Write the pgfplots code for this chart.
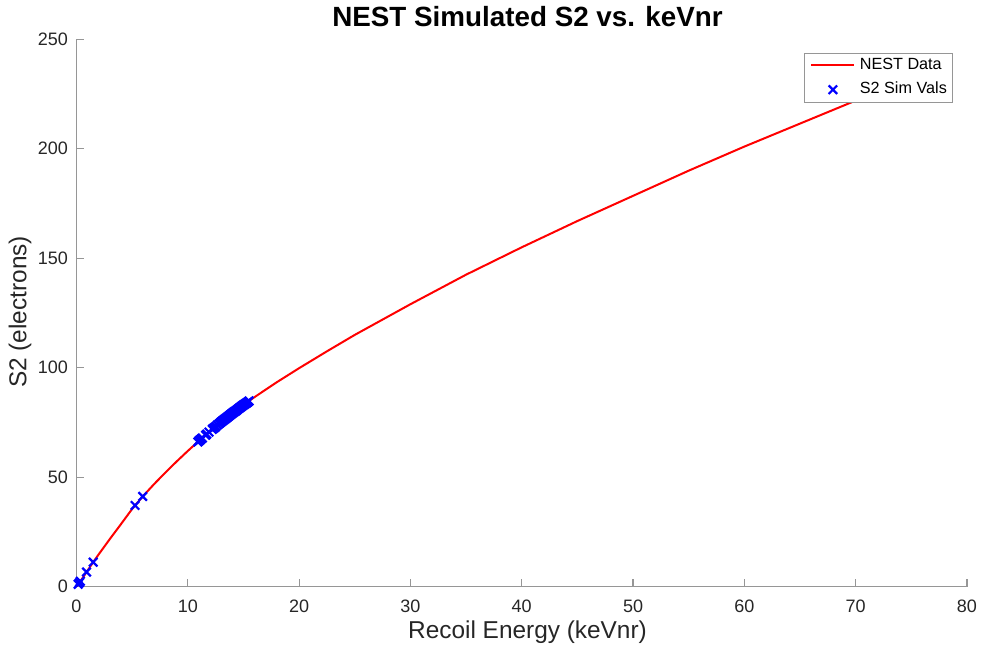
\documentclass[border=0pt]{standalone}
\usepackage{fontspec}
\setmainfont{Liberation Sans}
\usepackage{pgfplots}
\pgfplotsset{compat=1.18}
\definecolor{axgray}{RGB}{150,150,150}
\definecolor{txgray}{RGB}{38,38,38}
\begin{document}
\begin{tikzpicture}
\begin{axis}[
  scale only axis,
  width=445.25pt, height=273.7pt,
  xmin=0, xmax=80, ymin=0, ymax=250,
  xtick={0,10,...,80}, ytick={0,50,...,250},
  axis x line*=bottom, axis y line*=left,
  axis line style={draw=axgray, line width=0.6pt, -},
  tick align=inside,
  major tick length=3.8pt,
  tick style={draw=axgray, line width=0.6pt},
  /pgf/number format/assume math mode=true,
  ticklabel style={font=\fontsize{9}{10}\selectfont, text=txgray},
  xticklabel style={anchor=base, yshift=-13pt},
  yticklabel style={anchor=east, inner sep=0pt, xshift=-4.1pt},
  xlabel={Recoil Energy (keVnr)},
  ylabel={S2 (electrons)},
  label style={font=\fontsize{12.2}{14}\selectfont, text=txgray},
  xlabel style={at={(axis description cs:0.5065,-0.0943)}, anchor=base},
  ylabel style={at={(axis description cs:-0.0634,0.502)}, anchor=center},
  title={NEST Simulated S2 vs. keVnr},
  title style={at={(axis description cs:0.5065,1.0183)}, anchor=base, yshift=-4.6pt, font=\bfseries\fontsize{13.9}{16}\selectfont},
  legend style={at={(axis description cs:0.9846,0.9755)}, anchor=north east,
    draw=axgray, fill=white, font=\fontsize{8.1}{9}\selectfont,
    inner xsep=3pt, inner ysep=2.15pt, row sep=4.15pt, column sep=2.2pt,
    nodes={inner sep=0pt, text height=6pt, text depth=2pt},
    cells={anchor=west}},
  legend image code/.code={\draw[mark repeat=2,mark phase=2,#1] plot coordinates {(0pt,0pt) (10.75pt,0pt) (21.5pt,0pt)};},
]
\addplot[red, line width=1pt, no marks] coordinates {
(0,0) (0.5,3.6) (1,7.4) (1.5,11.2) (2,14.8) (3,21.8) (4,28.6) (5,35.5) (6,41.5)
(7,47) (8,52.2) (9,57.2) (10,62) (11,66.6) (12,71) (13,75.2) (14,79.2) (15,83)
(16,86.6) (18,93.4) (20,99.8) (22.5,107.5) (25,115) (27.5,122) (30,129)
(35,142.5) (40,155) (45,167) (50,178.5) (55,190) (60,201) (65,211.5) (70,222) (75,232)
};
\addlegendentry{NEST Data}
\addplot[blue, only marks, mark=x, mark size=3pt, mark options={line width=1.1pt}] coordinates {
(0.15,1.1) (0.25,1.8) (0.35,2.5) (0.9,6.7) (1.5,11.2) (5.26,37.1) (5.95,41.2)
(10.9,66.1) (11.0,66.6) (11.05,66.8) (11.1,67.0) (11.2,67.5) (11.3,67.9) (11.6,69.2) (11.7,69.7) (11.9,70.6)
(12.2,71.9) (12.3,72.3) (12.4,72.7) (12.5,73.1) (12.65,73.8) (12.8,74.4) (12.9,74.8) (13.0,75.2) (13.1,75.6) (13.2,76.0) (13.3,76.4) (13.4,76.8)
(13.5,77.2) (13.6,77.6) (13.7,78.0) (13.8,78.4) (13.9,78.8) (14.0,79.2) (14.1,79.6) (14.2,80.0) (14.3,80.3) (14.4,80.7) (14.5,81.1) (14.6,81.5)
(14.7,81.8) (14.8,82.2) (14.9,82.6) (15.0,83.0) (15.1,83.3) (15.2,83.7) (15.3,84.0) (15.4,84.4) (15.5,84.8)
};
\addlegendentry{S2 Sim Vals}
\end{axis}
\pgfresetboundingbox
\path[use as bounding box] (-38.25pt,-29.65pt) rectangle (452.75pt,293.35pt);
\end{tikzpicture}
\end{document}
